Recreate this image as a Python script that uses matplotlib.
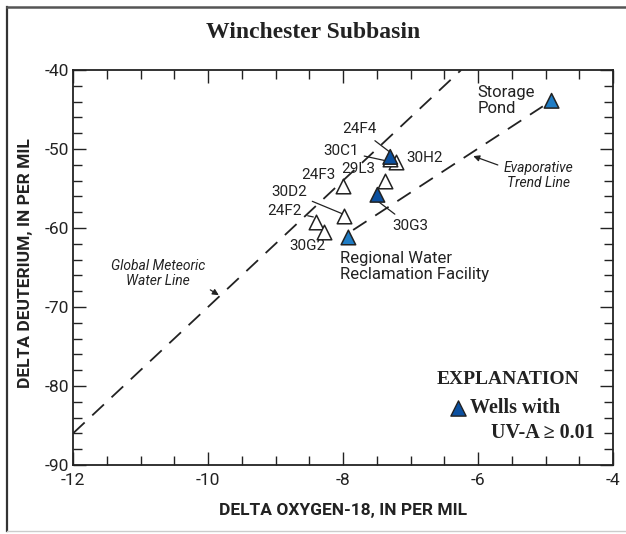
import matplotlib
matplotlib.use('Agg')
import matplotlib.pyplot as plt
from matplotlib.ticker import MultipleLocator
from matplotlib.lines import Line2D

# sample points (delta O-18, delta D)
white_names = ['30H2', '30C1', '29L3', '24F3', '30D2', '24F2', '30G2']
white_x = [-7.22, -7.30, -7.38, -8.00, -7.98, -8.40, -8.28]
white_y = [-51.6, -51.3, -54.1, -54.7, -58.5, -59.2, -60.5]

blue_names = ['24F4', '30G3', 'Regional', 'Storage']
blue_x = [-7.30, -7.49, -7.92, -4.91]
blue_y = [-51.0, -55.8, -61.2, -43.9]
blue_colors = ['#0b50a0', '#0b50a0', '#1f7cc4', '#1f7cc4']

gmwl_x = [-12.0, -6.25]
gmwl_y = [-86.0, -40.0]
trend_x = [-7.85, -5.04]
trend_y = [-60.25, -44.6]

SANS = ['Roboto', 'DejaVu Sans']
SERIF = ['Liberation Serif', 'DejaVu Serif']
plt.rcParams['font.family'] = SANS
plt.rcParams['axes.unicode_minus'] = False
plt.rcParams['lines.scale_dashes'] = False
INK = '#222222'

fig = plt.figure(figsize=(6.26, 5.34), dpi=100)
ax = fig.add_axes([73/626, 1 - 465/534, 540/626, 395/534])

# outer frame
fig.add_artist(Line2D([7/626, 7/626], [3/534, 1 - 7/534], transform=fig.transFigure, color='#333333', lw=1.6))
fig.add_artist(Line2D([7/626, 1.0], [1 - 7/534, 1 - 7/534], transform=fig.transFigure, color='#555555', lw=1.8))
fig.add_artist(Line2D([7/626, 1.0], [3/534, 3/534], transform=fig.transFigure, color='#cccccc', lw=1.0))

# reference lines
ax.plot(gmwl_x, gmwl_y, color=INK, lw=1.3, dashes=(11.5, 7.5), zorder=1)
ax.plot(trend_x, trend_y, color=INK, lw=1.3, dashes=(11.5, 7.5), zorder=1)

# white triangles then blue on top
ax.scatter(white_x, white_y, marker='^', s=110, facecolor='white', edgecolor=INK, linewidths=1.1, zorder=3)
ax.scatter(blue_x, blue_y, marker='^', s=110, c=blue_colors, edgecolor=INK, linewidths=1.1, zorder=4)

ax.set_xlim(-12, -4)
ax.set_ylim(-90, -40)
ax.xaxis.set_major_locator(MultipleLocator(2))
ax.xaxis.set_minor_locator(MultipleLocator(0.5))
ax.yaxis.set_major_locator(MultipleLocator(10))
ax.yaxis.set_minor_locator(MultipleLocator(2))
ax.tick_params(which='both', direction='in', top=True, right=True, width=1.0, color=INK, labelcolor=INK)
ax.tick_params(which='major', length=9.5, labelsize=12.5)
ax.tick_params(which='minor', length=6.5)
ax.tick_params(axis='x', pad=6)
ax.tick_params(axis='y', pad=3)
for sp in ax.spines.values():
    sp.set_linewidth(1.3)
    sp.set_color(INK)

ax.set_xlabel('DELTA OXYGEN-18, IN PER MIL', fontsize=12.5, fontweight='bold', color=INK)
ax.set_ylabel('DELTA DEUTERIUM, IN PER MIL', fontsize=12.5, fontweight='bold', color=INK)
ax.xaxis.set_label_coords(0.5, -0.096)
ax.yaxis.set_label_coords(-0.074, 0.51)

fig.text(0.5, 1 - 33/534, 'Winchester Subbasin', family=SERIF, fontsize=17,
         fontweight='bold', ha='center', va='center', color=INK)

# well labels with leader lines
def label(txt, xytext, xy=None):
    if xy is None:
        ax.text(xytext[0], xytext[1], txt, fontsize=11, color=INK, ha='center', va='center')
    else:
        ax.annotate(txt, xy=xy, xytext=xytext, ha='center', va='center', fontsize=11, color=INK,
                    arrowprops=dict(arrowstyle='-', color=INK, lw=0.9, shrinkA=2, shrinkB=0))

label('24F4', (-7.75, -47.5), (-7.32, -50.3))
label('30C1', (-8.03, -50.25), (-7.36, -51.5))
label('30H2', (-6.79, -51.1))
label('29L3', (-7.78, -52.5))
label('24F3', (-8.36, -53.3))
label('30D2', (-8.80, -55.4), (-8.01, -58.2))
label('24F2', (-8.86, -57.85), (-8.44, -58.6))
label('30G2', (-8.52, -62.3))
label('30G3', (-7.01, -59.7), (-7.50, -56.5))

ax.text(-8.04, -62.9, 'Regional Water\nReclamation Facility', ha='left', va='top',
        fontsize=12, color=INK, linespacing=1.05)
ax.text(-6.01, -41.9, 'Storage\nPond', ha='left', va='top', fontsize=12,
        color=INK, linespacing=1.05)

ax.annotate('Evaporative\nTrend Line', xy=(-6.07, -50.9), xytext=(-5.11, -53.3),
            ha='center', va='center', fontsize=10, style='italic', color=INK,
            linespacing=1.1,
            arrowprops=dict(arrowstyle='-|>', color=INK, lw=0.9, mutation_scale=9,
                            shrinkA=2, shrinkB=0, relpos=(0.0, 0.78)))
ax.annotate('Global Meteoric\nWater Line', xy=(-9.84, -68.5), xytext=(-10.74, -65.8),
            ha='center', va='center', fontsize=10, style='italic', color=INK,
            linespacing=1.1,
            arrowprops=dict(arrowstyle='-|>', color=INK, lw=0.9, mutation_scale=9,
                            shrinkA=2, shrinkB=0, relpos=(0.92, 0.22)))

# explanation box
ax.text(-5.56, -79.2, 'EXPLANATION', family=SERIF, fontsize=14, fontweight='bold',
        ha='center', va='center', color=INK)
ax.scatter([-6.30], [-82.8], marker='^', s=120, c='#0b50a0', edgecolor=INK, linewidths=1.0, zorder=4)
ax.text(-6.12, -82.8, 'Wells with', family=SERIF, fontsize=14.5, fontweight='bold',
        ha='left', va='center', color=INK)
ax.text(-4.27, -86.0, 'UV-A \u2265 0.01', family=SERIF, fontsize=14.5, fontweight='bold',
        ha='right', va='center', color=INK)

fig.savefig('out.png', dpi=100)
